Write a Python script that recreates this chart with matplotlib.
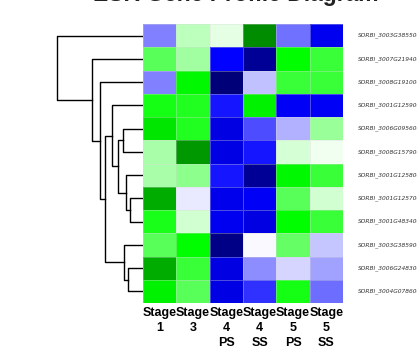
import numpy as np
import matplotlib.pyplot as plt
from matplotlib.colors import LinearSegmentedColormap

genes = ['SORBI_3003G385500', 'SORBI_3007G219400', 'SORBI_3008G191000',
         'SORBI_3001G125900', 'SORBI_3006G095600', 'SORBI_3008G157900',
         'SORBI_3001G125800', 'SORBI_3001G125700', 'SORBI_3001G483400',
         'SORBI_3003G385900', 'SORBI_3006G248300', 'SORBI_3004G078600']
stages = ['Stage\n1', 'Stage\n3', 'Stage\n4\nPS', 'Stage\n4\nSS', 'Stage\n5\nPS', 'Stage\n5\nSS']

values = np.array([
    [-0.50, 0.25, 0.10, 1.90, -0.55, -1.10],
    [0.65, 0.37, -1.00, -1.75, 1.00, 0.77],
    [-0.50, 1.06, -1.95, -0.25, 0.77, 0.77],
    [0.92, 0.86, -0.92, 1.10, -1.06, -1.06],
    [1.20, 0.86, -1.20, -0.70, -0.30, 0.40],
    [0.33, 1.80, -1.18, -0.92, 0.16, 0.06],
    [0.33, 0.45, -0.92, -1.75, 1.06, 0.77],
    [1.65, -0.08, -1.14, -1.06, 0.65, 0.18],
    [0.90, 0.18, -1.10, -1.20, 1.00, 0.77],
    [0.65, 1.00, -1.85, -0.03, 0.60, -0.23],
    [1.65, 0.77, -1.20, -0.45, -0.16, -0.37],
    [1.10, 0.65, -1.18, -0.80, 0.92, -0.57],
])

# row clustering: (left, right, height); leaves 0..11, new clusters numbered from 12
merges = [
    (4, 5, 20), (7, 8, 13), (10, 11, 15), (6, 13, 17), (12, 15, 25),
    (3, 16, 31), (9, 14, 19), (17, 18, 38), (2, 19, 43), (1, 20, 51), (0, 21, 86),
]

cmap = LinearSegmentedColormap.from_list(
    'bwg', [(0, 0, 0.45), (0, 0, 1), (1, 1, 1), (0, 1, 0), (0, 0.5, 0)])

fig = plt.figure(figsize=(4.17, 3.5), dpi=100)
ax = fig.add_axes([143 / 417, 47 / 350, 200 / 417, 279 / 350])
ax.pcolormesh(values, cmap=cmap, vmin=-2, vmax=2,
              edgecolors=(0.85, 0.85, 0.85, 0.35), linewidth=0.4)
ax.set_xlim(0, len(stages))
ax.set_ylim(len(genes), 0)
ax.set_xticks(np.arange(len(stages)) + 0.5)
ax.set_xticklabels(stages, fontsize=9, fontweight='bold', family='Liberation Sans',
                   linespacing=1.3)
ax.tick_params(axis='x', length=0, pad=3)
ax.set_yticks([])
for i, g in enumerate(genes):
    ax.text(len(stages) + 0.45, i + 0.5, g, fontsize=4.2, style='italic',
            color='#333333', va='center', ha='left', clip_on=False)
for s in ax.spines.values():
    s.set_visible(False)

# dendrogram
dax = fig.add_axes([55 / 417, 47 / 350, 88 / 417, 279 / 350])
pos = {i: (i + 0.5, 0) for i in range(len(genes))}
for k, (a, b, h) in enumerate(merges):
    ya, ha = pos[a]
    yb, hb = pos[b]
    dax.plot([ha, h, h, hb], [ya, ya, yb, yb], color='black', lw=1)
    pos[len(genes) + k] = ((ya + yb) / 2, h)
dax.set_xlim(88, 0)
dax.set_ylim(len(genes), 0)
dax.axis('off')

fig.text(0.566, 1 - 1.2 / 350, 'ESR Gene Profile Diagram', ha='center', va='baseline',
         fontsize=16.5, fontweight='bold', color='#222222', family='Liberation Sans')

fig.savefig('out.png')
